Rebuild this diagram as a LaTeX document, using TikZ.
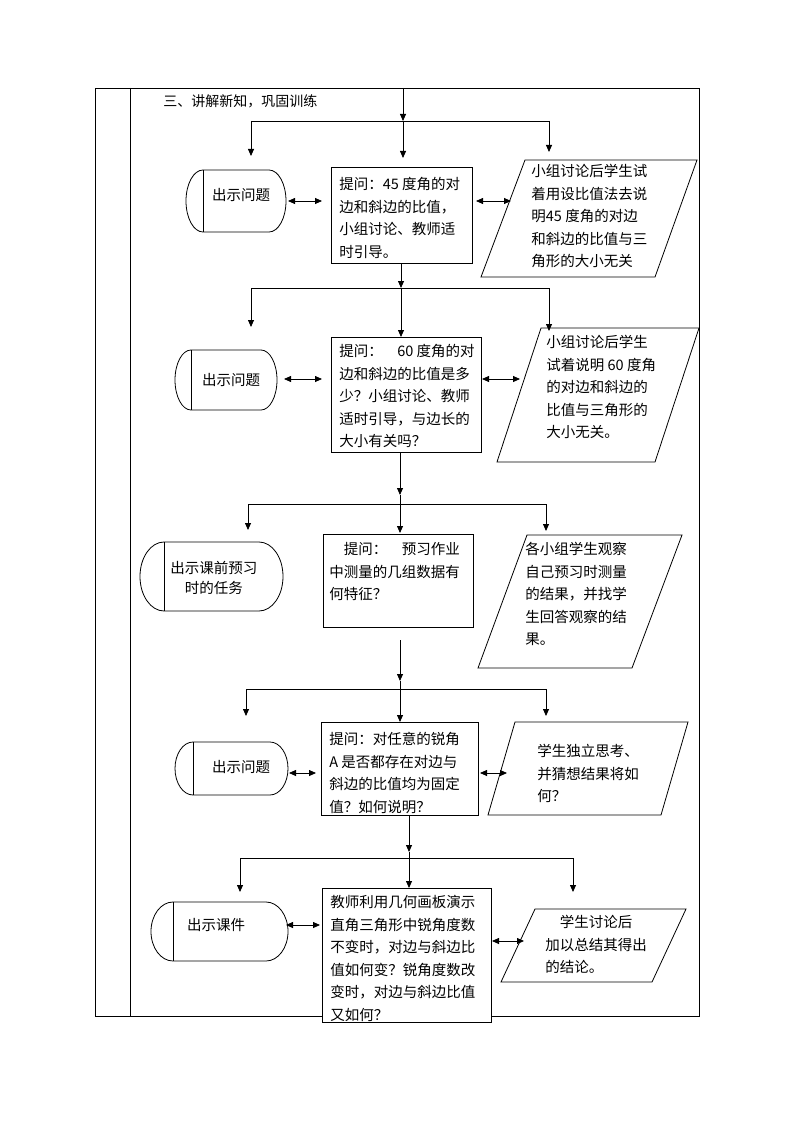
\documentclass[tikz,border=0pt]{standalone}
\usepackage{fontspec}
\setmainfont{Noto Sans CJK SC}
\usetikzlibrary{arrows.meta}
\newcommand\stadshape[5]{%
  \draw[shp] ({#1+#5},#2) -- ({#3-#5},#2)
    arc[start angle=-90,end angle=90,x radius=#5,y radius={(#4-#2)/2}]
    -- ({#1+#5},#4)
    arc[start angle=90,end angle=270,x radius=#5,y radius={(#4-#2)/2}] -- cycle;
  \draw[shp] ({#1+#5},#2) -- ({#1+#5},#4);}
\begin{document}
\begin{tikzpicture}[x=1pt,y=-1pt,line width=0.8pt,
  shp/.style={draw=black,line width=0.8pt},
  arr/.style={-{Triangle[length=7pt,width=6pt]}},
  dbl/.style={{Triangle[length=7pt,width=6pt]}-{Triangle[length=7pt,width=6pt]}},
  txt/.style={anchor=north west,inner sep=0pt,align=left,font=\fontsize{14.5}{22.5}\selectfont},
  stxt/.style={inner sep=0pt,align=left,font=\fontsize{14.5}{20}\selectfont},
  box/.style={draw,fill=white,inner sep=0pt,anchor=north west}]
\useasboundingbox (0,0) rectangle (794,1123);
% table frame
\draw (95,88) rectangle (699,1016);
\draw (130,88) -- (130,1016);
\node[anchor=west,inner sep=0pt,font=\fontsize{14}{16}\selectfont] (title) at (163,101) {三、讲解新知，巩固训练};

% ---------- row 1 ----------
\coordinate (in0) at (403,88);
\coordinate (j1) at (403,121);
\coordinate (h1l) at (251,121);
\coordinate (h1r) at (549,121);
\coordinate (a1l) at (251,156);
\coordinate (a1m) at (403,158);
\coordinate (a1r) at (549,152);
\draw[arr] (in0) -- (j1);
\draw (h1l) -- (h1r);
\draw[arr] (h1l) -- (a1l);
\draw[arr] (j1) -- (a1m);
\draw[arr] (h1r) -- (a1r);
\stadshape{186}{170}{286}{232}{17}
\node[stxt] (s1) at (241,195) {出示问题};
\node[box,minimum width=141pt,minimum height=96pt] (r1) at (331,167) {};
\node[txt] (t1) at (339,177) {提问：45 度角的对\\边和斜边的比值，\\小组讨论、教师适\\时引导。};
\draw[shp] (525,160) -- (697,160) -- (655,277) -- (481,277) -- cycle;
\node[txt] (p1) at (531,164) {小组讨论后学生试\\着用设比值法去说\\明45 度角的对边\\和斜边的比值与三\\角形的大小无关};
\coordinate (d1a) at (288,201); \coordinate (d1b) at (322,201);
\coordinate (d1c) at (476,201); \coordinate (d1d) at (511,201);
\draw[dbl] (d1a) -- (d1b);
\draw[dbl] (d1c) -- (d1d);

% ---------- row 2 ----------
\coordinate (r1b) at (401,263);
\coordinate (j2) at (401,288);
\coordinate (h2l) at (251,288);
\coordinate (h2r) at (549,288);
\coordinate (a2l) at (251,327);
\coordinate (a2m) at (401,337);
\coordinate (a2r) at (549,331);
\draw[arr] (r1b) -- (j2);
\draw (h2l) -- (h2r);
\draw[arr] (h2l) -- (a2l);
\draw[arr] (j2) -- (a2m);
\draw[arr] (h2r) -- (a2r);
\stadshape{175}{350}{277}{410}{16}
\node[stxt] (s2) at (231,380) {出示问题};
\node[box,minimum width=150pt,minimum height=115pt] (r2) at (331,337) {};
\node[txt] (t2) at (339,344) {提问：　60 度角的对\\边和斜边的比值是多\\少？小组讨论、教师\\适时引导，与边长的\\大小有关吗？};
\draw[shp] (541,328) -- (699,328) -- (655,462) -- (497,462) -- cycle;
\node[txt] (p2) at (546,335) {小组讨论后学生\\试着说明 60 度角\\的对边和斜边的\\比值与三角形的\\大小无关。};
\coordinate (d2a) at (284,379); \coordinate (d2b) at (322,379);
\coordinate (d2c) at (482,379); \coordinate (d2d) at (520,379);
\draw[dbl] (d2a) -- (d2b);
\draw[dbl] (d2c) -- (d2d);

% ---------- row 3 ----------
\coordinate (r2b) at (400,452);
\coordinate (k3) at (400,495);
\coordinate (j3) at (400,504);
\coordinate (h3l) at (248,504);
\coordinate (h3r) at (546,504);
\coordinate (a3l) at (248,530);
\coordinate (a3m) at (400,533);
\coordinate (a3r) at (546,531);
\draw[arr] (r2b) -- (k3);
\draw (k3) -- (j3);
\draw (h3l) -- (h3r);
\draw[arr] (h3l) -- (a3l);
\draw[arr] (j3) -- (a3m);
\draw[arr] (h3r) -- (a3r);
\stadshape{140}{542}{283}{611}{24}
\node[stxt,anchor=west] (s3) at (170,578) {出示课前预习\\　时的任务};
\node[box,minimum width=150pt,minimum height=93pt] (r3) at (323,534) {};
\node[txt] (t3) at (329,542) {　提问：　预习作业\\中测量的几组数据有\\何特征？};
\draw[shp] (527,535) -- (682,535) -- (632,668) -- (478,668) -- cycle;
\node[txt] (p3) at (525,542) {各小组学生观察\\自己预习时测量\\的结果，并找学\\生回答观察的结\\果。};

% ---------- row 4 ----------
\coordinate (m4a) at (400,640);
\coordinate (m4b) at (400,681);
\coordinate (j4) at (400,689);
\coordinate (h4l) at (246,689);
\coordinate (h4r) at (546,689);
\coordinate (a4l) at (246,716);
\coordinate (a4m) at (400,722);
\coordinate (a4r) at (546,716);
\draw[arr] (m4a) -- (m4b);
\draw (m4b) -- (j4);
\draw (h4l) -- (h4r);
\draw[arr] (h4l) -- (a4l);
\draw[arr] (j4) -- (a4m);
\draw[arr] (h4r) -- (a4r);
\stadshape{175}{742}{288}{795}{18}
\node[stxt] (s4) at (241,767) {出示问题};
\node[box,minimum width=157pt,minimum height=93pt] (r4) at (321,722) {};
\node[txt] (t4) at (329,732) {提问：对任意的锐角\\A 是否都存在对边与\\斜边的比值均为固定\\值？如何说明？};
\draw[shp] (515,722) -- (688,722) -- (661,815) -- (488,815) -- cycle;
\node[txt] (p4) at (537,744) {学生独立思考、\\并猜想结果将如\\何？};
\coordinate (d4a) at (289,773); \coordinate (d4b) at (316,773);
\coordinate (d4c) at (480,773); \coordinate (d4d) at (507,773);
\draw[dbl] (d4a) -- (d4b);
\draw[dbl] (d4c) -- (d4d);

% ---------- row 5 ----------
\coordinate (r4b) at (409,815);
\coordinate (k5) at (409,852);
\coordinate (j5) at (409,858);
\coordinate (h5l) at (240,858);
\coordinate (h5r) at (573,858);
\coordinate (a5l) at (240,892);
\coordinate (a5m) at (409,888);
\coordinate (a5r) at (573,892);
\draw[arr] (r4b) -- (k5);
\draw (k5) -- (j5);
\draw (h5l) -- (h5r);
\draw[arr] (h5l) -- (a5l);
\draw[arr] (j5) -- (a5m);
\draw[arr] (h5r) -- (a5r);
\stadshape{151}{902}{288}{961}{22}
\node[stxt] (s5) at (216,925) {出示课件};
\node[box,minimum width=169pt,minimum height=134pt] (r5) at (322,888) {};
\node[txt] (t5) at (330,895) {教师利用几何画板演示\\直角三角形中锐角度数\\不变时，对边与斜边比\\值如何变？锐角度数改\\变时，对边与斜边比值\\又如何？};
\draw[shp] (535,909) -- (686,909) -- (652,982) -- (501,982) -- cycle;
\node[txt] (p5) at (545,915) {　学生讨论后\\加以总结其得出\\的结论。};
\coordinate (d5a) at (286,925); \coordinate (d5b) at (320,925);
\coordinate (d5c) at (492,941); \coordinate (d5d) at (524,941);
\draw[dbl] (d5a) -- (d5b);
\draw[dbl] (d5c) -- (d5d);
\end{tikzpicture}
\end{document}
